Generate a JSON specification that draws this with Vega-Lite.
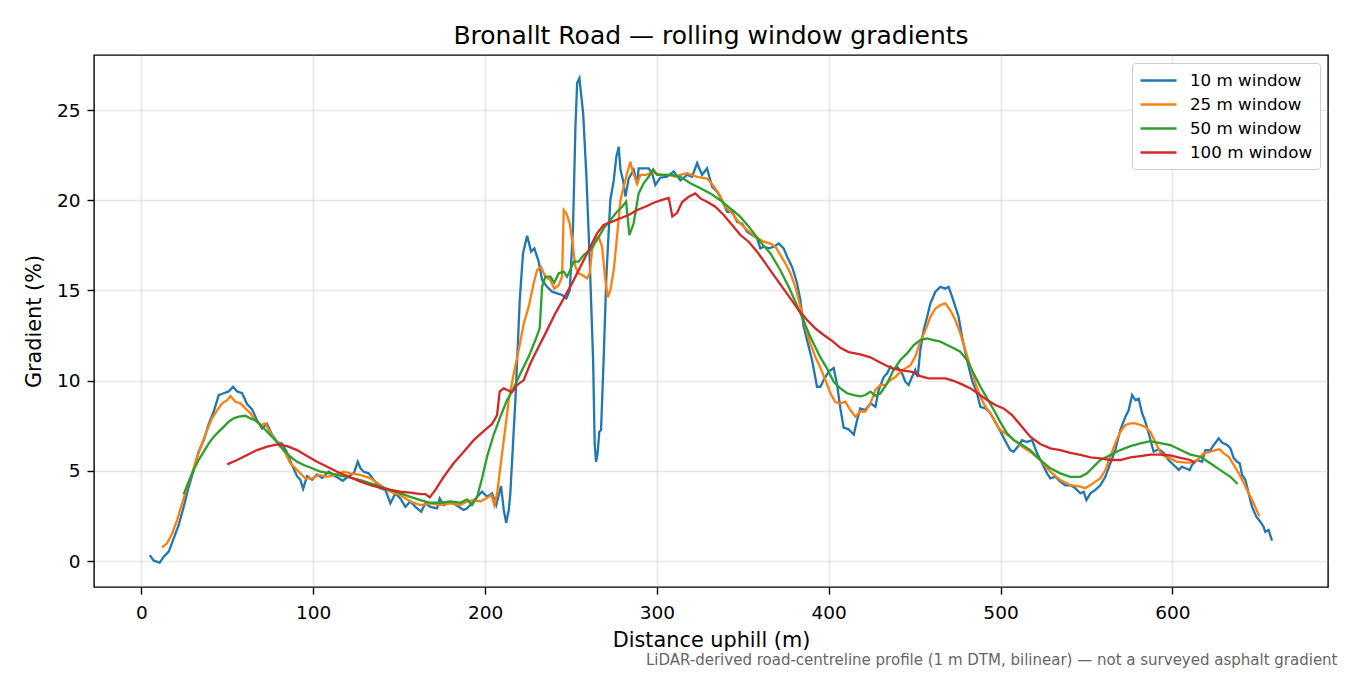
{
"$schema":"https://vega.github.io/schema/vega-lite/v6.json",
"width":1234,"height":532,
"autosize":{"type":"none"},
"padding":{"left":94,"top":55,"right":22,"bottom":88},
"background":"white",
"title":{"text":"Bronallt Road — rolling window gradients","font":"DejaVu Sans","fontSize":25,"fontWeight":"normal","color":"#000000","offset":6.5,"anchor":"middle"},
"config":{
"font":"DejaVu Sans",
"view":{"stroke":"#000000","strokeWidth":1.4},
"axis":{"domain":false,"tickColor":"#000000","tickWidth":1.4,"tickSize":7,"labelFont":"DejaVu Sans","labelFontSize":18.5,"labelColor":"#000000","titleFont":"DejaVu Sans","titleFontSize":20.8,"titleFontWeight":"normal","titleColor":"#000000","gridColor":"#b0b0b0","gridOpacity":0.3,"gridWidth":1.6},
"legend":{"orient":"top-right","offset":8,"labelFont":"DejaVu Sans","labelFontSize":16.7,"labelColor":"#000000","symbolType":"M-1,0L3,0","symbolSize":324,"symbolStrokeWidth":2.4,"labelOffset":30,"rowPadding":4,"padding":7,"strokeColor":"#cccccc","fillColor":"#ffffff","cornerRadius":3}
},
"datasets":{"gr":[
{"w":"10 m window","d":4.8,"g":0.33},{"w":"10 m window","d":7.2,"g":0.02},{"w":"10 m window","d":10.6,"g":-0.09},{"w":"10 m window","d":13,"g":0.24},{"w":"10 m window","d":15.9,"g":0.52},{"w":"10 m window","d":18.8,"g":1.26},{"w":"10 m window","d":21.7,"g":2.0},{"w":"10 m window","d":24.6,"g":3.0},{"w":"10 m window","d":27.5,"g":4.1},{"w":"10 m window","d":30.4,"g":5.04},{"w":"10 m window","d":33.3,"g":6.06},{"w":"10 m window","d":36.3,"g":6.7},{"w":"10 m window","d":39.2,"g":7.6},{"w":"10 m window","d":42.1,"g":8.3},{"w":"10 m window","d":45,"g":9.2},{"w":"10 m window","d":47.9,"g":9.3},{"w":"10 m window","d":50.8,"g":9.4},{"w":"10 m window","d":53.3,"g":9.66},{"w":"10 m window","d":55.7,"g":9.4},{"w":"10 m window","d":58.6,"g":9.3},{"w":"10 m window","d":61.5,"g":8.7},{"w":"10 m window","d":64.4,"g":8.4},{"w":"10 m window","d":67.3,"g":7.8},{"w":"10 m window","d":70.2,"g":7.35},{"w":"10 m window","d":73.1,"g":7.6},{"w":"10 m window","d":76,"g":7.0},{"w":"10 m window","d":79,"g":6.6},{"w":"10 m window","d":81.9,"g":6.5},{"w":"10 m window","d":84.8,"g":6.0},{"w":"10 m window","d":87.7,"g":5.3},{"w":"10 m window","d":90.6,"g":4.7},{"w":"10 m window","d":92.5,"g":4.5},{"w":"10 m window","d":94.1,"g":4.0},{"w":"10 m window","d":96.4,"g":4.7},{"w":"10 m window","d":99.3,"g":4.5},{"w":"10 m window","d":102.2,"g":4.8},{"w":"10 m window","d":105.2,"g":4.6},{"w":"10 m window","d":109,"g":4.95},{"w":"10 m window","d":112.9,"g":4.7},{"w":"10 m window","d":117.2,"g":4.45},{"w":"10 m window","d":120.6,"g":4.7},{"w":"10 m window","d":123.6,"g":4.86},{"w":"10 m window","d":125.9,"g":5.5},{"w":"10 m window","d":127.5,"g":5.14},{"w":"10 m window","d":129.4,"g":4.95},{"w":"10 m window","d":132.3,"g":4.86},{"w":"10 m window","d":135.2,"g":4.5},{"w":"10 m window","d":139.1,"g":4.03},{"w":"10 m window","d":142,"g":3.94},{"w":"10 m window","d":144.9,"g":3.2},{"w":"10 m window","d":147.8,"g":3.75},{"w":"10 m window","d":150.7,"g":3.47},{"w":"10 m window","d":153.6,"g":3.0},{"w":"10 m window","d":156.5,"g":3.3},{"w":"10 m window","d":159.5,"g":3.0},{"w":"10 m window","d":162.8,"g":2.73},{"w":"10 m window","d":165.3,"g":3.2},{"w":"10 m window","d":168.2,"g":3.0},{"w":"10 m window","d":172.1,"g":2.92},{"w":"10 m window","d":173.6,"g":3.47},{"w":"10 m window","d":175.9,"g":3.1},{"w":"10 m window","d":179.8,"g":3.3},{"w":"10 m window","d":184.7,"g":3.0},{"w":"10 m window","d":187.6,"g":2.83},{"w":"10 m window","d":189.5,"g":2.92},{"w":"10 m window","d":192.4,"g":3.2},{"w":"10 m window","d":195.4,"g":3.56},{"w":"10 m window","d":198.3,"g":3.84},{"w":"10 m window","d":201.2,"g":3.56},{"w":"10 m window","d":204.1,"g":3.75},{"w":"10 m window","d":206.5,"g":3.1},{"w":"10 m window","d":209.3,"g":4.15},{"w":"10 m window","d":210.9,"g":2.83},{"w":"10 m window","d":212.3,"g":2.12},{"w":"10 m window","d":213.8,"g":2.83},{"w":"10 m window","d":214.7,"g":3.75},{"w":"10 m window","d":217.7,"g":9.0},{"w":"10 m window","d":220.2,"g":14.5},{"w":"10 m window","d":222.1,"g":17.06},{"w":"10 m window","d":224.5,"g":18.03},{"w":"10 m window","d":226.8,"g":17.15},{"w":"10 m window","d":228.7,"g":17.33},{"w":"10 m window","d":231.2,"g":16.6},{"w":"10 m window","d":233.2,"g":15.58},{"w":"10 m window","d":236.1,"g":15.2},{"w":"10 m window","d":239,"g":14.93},{"w":"10 m window","d":241.9,"g":14.84},{"w":"10 m window","d":244.8,"g":14.75},{"w":"10 m window","d":247.3,"g":14.56},{"w":"10 m window","d":249.3,"g":15.0},{"w":"10 m window","d":251.2,"g":18.5},{"w":"10 m window","d":252.6,"g":24.07},{"w":"10 m window","d":253.6,"g":26.5},{"w":"10 m window","d":254.9,"g":26.76},{"w":"10 m window","d":256.1,"g":25.7},{"w":"10 m window","d":257.1,"g":24.8},{"w":"10 m window","d":259,"g":21.3},{"w":"10 m window","d":260.9,"g":16.7},{"w":"10 m window","d":262.9,"g":11.1},{"w":"10 m window","d":263.8,"g":6.5},{"w":"10 m window","d":264.6,"g":5.5},{"w":"10 m window","d":265.5,"g":5.97},{"w":"10 m window","d":266.5,"g":7.17},{"w":"10 m window","d":267.5,"g":7.26},{"w":"10 m window","d":269,"g":11.14},{"w":"10 m window","d":270.6,"g":15.76},{"w":"10 m window","d":272.9,"g":20.0},{"w":"10 m window","d":274.9,"g":21.1},{"w":"10 m window","d":276.4,"g":22.4},{"w":"10 m window","d":277.8,"g":22.96},{"w":"10 m window","d":278.8,"g":21.7},{"w":"10 m window","d":280.3,"g":21.1},{"w":"10 m window","d":281.7,"g":20.2},{"w":"10 m window","d":283.6,"g":21.2},{"w":"10 m window","d":286.5,"g":21.7},{"w":"10 m window","d":288.5,"g":20.9},{"w":"10 m window","d":289.4,"g":21.77},{"w":"10 m window","d":292.3,"g":21.77},{"w":"10 m window","d":295.2,"g":21.77},{"w":"10 m window","d":297.2,"g":21.5},{"w":"10 m window","d":299.1,"g":20.84},{"w":"10 m window","d":302,"g":21.25},{"w":"10 m window","d":305.9,"g":21.3},{"w":"10 m window","d":309.8,"g":21.6},{"w":"10 m window","d":313.7,"g":21.1},{"w":"10 m window","d":317.6,"g":21.4},{"w":"10 m window","d":320.5,"g":21.3},{"w":"10 m window","d":323.4,"g":22.05},{"w":"10 m window","d":326.3,"g":21.4},{"w":"10 m window","d":329.2,"g":21.77},{"w":"10 m window","d":332.1,"g":20.75},{"w":"10 m window","d":335,"g":20.47},{"w":"10 m window","d":337.9,"g":20.0},{"w":"10 m window","d":340.9,"g":19.36},{"w":"10 m window","d":343.8,"g":19.36},{"w":"10 m window","d":346.7,"g":18.8},{"w":"10 m window","d":349.6,"g":18.7},{"w":"10 m window","d":352.5,"g":18.25},{"w":"10 m window","d":355.4,"g":18.07},{"w":"10 m window","d":358.3,"g":17.9},{"w":"10 m window","d":360.2,"g":17.33},{"w":"10 m window","d":362.2,"g":17.42},{"w":"10 m window","d":365.1,"g":17.33},{"w":"10 m window","d":368,"g":17.42},{"w":"10 m window","d":370.9,"g":17.6},{"w":"10 m window","d":373.8,"g":17.33},{"w":"10 m window","d":375.8,"g":16.87},{"w":"10 m window","d":378.7,"g":16.3},{"w":"10 m window","d":381.6,"g":15.4},{"w":"10 m window","d":383.5,"g":14.47},{"w":"10 m window","d":385.4,"g":13.0},{"w":"10 m window","d":387.4,"g":12.25},{"w":"10 m window","d":390.3,"g":11.14},{"w":"10 m window","d":393.2,"g":9.66},{"w":"10 m window","d":395.2,"g":9.66},{"w":"10 m window","d":397.1,"g":10.03},{"w":"10 m window","d":400,"g":10.5},{"w":"10 m window","d":402.9,"g":10.7},{"w":"10 m window","d":404.9,"g":9.76},{"w":"10 m window","d":406.8,"g":8.46},{"w":"10 m window","d":408.7,"g":7.4},{"w":"10 m window","d":411.6,"g":7.3},{"w":"10 m window","d":414.6,"g":7.0},{"w":"10 m window","d":416.5,"g":7.8},{"w":"10 m window","d":418.4,"g":8.46},{"w":"10 m window","d":421.3,"g":8.37},{"w":"10 m window","d":424.3,"g":8.74},{"w":"10 m window","d":427.2,"g":8.55},{"w":"10 m window","d":429.1,"g":9.48},{"w":"10 m window","d":432,"g":10.2},{"w":"10 m window","d":434,"g":10.4},{"w":"10 m window","d":435.9,"g":10.77},{"w":"10 m window","d":437.8,"g":10.6},{"w":"10 m window","d":439.8,"g":10.77},{"w":"10 m window","d":442.7,"g":10.4},{"w":"10 m window","d":444.6,"g":9.94},{"w":"10 m window","d":446.5,"g":9.76},{"w":"10 m window","d":448.5,"g":10.2},{"w":"10 m window","d":450.4,"g":10.6},{"w":"10 m window","d":451.8,"g":10.2},{"w":"10 m window","d":453.3,"g":11.7},{"w":"10 m window","d":455.3,"g":12.8},{"w":"10 m window","d":457.3,"g":13.54},{"w":"10 m window","d":459.2,"g":14.28},{"w":"10 m window","d":462.1,"g":14.93},{"w":"10 m window","d":465,"g":15.2},{"w":"10 m window","d":467.9,"g":15.1},{"w":"10 m window","d":469.8,"g":15.2},{"w":"10 m window","d":471.8,"g":14.65},{"w":"10 m window","d":473.7,"g":14.1},{"w":"10 m window","d":475.6,"g":13.54},{"w":"10 m window","d":477.6,"g":12.43},{"w":"10 m window","d":480.5,"g":11.14},{"w":"10 m window","d":483.4,"g":10.03},{"w":"10 m window","d":486.3,"g":9.3},{"w":"10 m window","d":488.3,"g":8.55},{"w":"10 m window","d":491.2,"g":8.46},{"w":"10 m window","d":494.1,"g":8.2},{"w":"10 m window","d":497,"g":7.7},{"w":"10 m window","d":499.9,"g":7.2},{"w":"10 m window","d":502.8,"g":6.65},{"w":"10 m window","d":505.7,"g":6.15},{"w":"10 m window","d":507.6,"g":6.06},{"w":"10 m window","d":510.6,"g":6.4},{"w":"10 m window","d":512.5,"g":6.7},{"w":"10 m window","d":515.4,"g":6.6},{"w":"10 m window","d":518.4,"g":6.7},{"w":"10 m window","d":521.3,"g":5.97},{"w":"10 m window","d":524.2,"g":5.42},{"w":"10 m window","d":527.1,"g":4.86},{"w":"10 m window","d":529,"g":4.58},{"w":"10 m window","d":531.9,"g":4.67},{"w":"10 m window","d":534.8,"g":4.4},{"w":"10 m window","d":537.7,"g":4.2},{"w":"10 m window","d":540.7,"g":4.2},{"w":"10 m window","d":543.6,"g":4.03},{"w":"10 m window","d":546.5,"g":3.75},{"w":"10 m window","d":548.4,"g":3.84},{"w":"10 m window","d":550,"g":3.38},{"w":"10 m window","d":552.3,"g":3.75},{"w":"10 m window","d":555.2,"g":3.94},{"w":"10 m window","d":558.1,"g":4.2},{"w":"10 m window","d":561,"g":4.67},{"w":"10 m window","d":563.9,"g":5.42},{"w":"10 m window","d":566.8,"g":6.15},{"w":"10 m window","d":569.7,"g":7.26},{"w":"10 m window","d":572.7,"g":8.0},{"w":"10 m window","d":574.6,"g":8.37},{"w":"10 m window","d":576.6,"g":9.2},{"w":"10 m window","d":578.5,"g":8.92},{"w":"10 m window","d":580.4,"g":9.0},{"w":"10 m window","d":582.4,"g":8.19},{"w":"10 m window","d":584.3,"g":7.72},{"w":"10 m window","d":586.8,"g":6.89},{"w":"10 m window","d":589.1,"g":6.06},{"w":"10 m window","d":592,"g":6.2},{"w":"10 m window","d":594.9,"g":6.0},{"w":"10 m window","d":597.8,"g":5.6},{"w":"10 m window","d":600.8,"g":5.32},{"w":"10 m window","d":603.7,"g":5.05},{"w":"10 m window","d":605.6,"g":5.23},{"w":"10 m window","d":607.6,"g":5.14},{"w":"10 m window","d":610.1,"g":5.04},{"w":"10 m window","d":611.4,"g":5.32},{"w":"10 m window","d":614.4,"g":5.6},{"w":"10 m window","d":617.3,"g":5.5},{"w":"10 m window","d":619.2,"g":6.15},{"w":"10 m window","d":622.1,"g":6.15},{"w":"10 m window","d":624.1,"g":6.43},{"w":"10 m window","d":627,"g":6.8},{"w":"10 m window","d":629,"g":6.56},{"w":"10 m window","d":631.9,"g":6.43},{"w":"10 m window","d":633.8,"g":6.25},{"w":"10 m window","d":635.8,"g":5.69},{"w":"10 m window","d":637.7,"g":5.5},{"w":"10 m window","d":639.2,"g":5.42},{"w":"10 m window","d":640.6,"g":4.77},{"w":"10 m window","d":642.5,"g":4.5},{"w":"10 m window","d":644.4,"g":3.75},{"w":"10 m window","d":646.4,"g":3.0},{"w":"10 m window","d":648.9,"g":2.46},{"w":"10 m window","d":651.2,"g":2.18},{"w":"10 m window","d":653.1,"g":1.9},{"w":"10 m window","d":654.1,"g":1.62},{"w":"10 m window","d":656,"g":1.72},{"w":"10 m window","d":658,"g":1.13},
{"w":"25 m window","d":12,"g":0.76},{"w":"25 m window","d":14.9,"g":0.98},{"w":"25 m window","d":17.9,"g":1.53},{"w":"25 m window","d":20.8,"g":2.27},{"w":"25 m window","d":23.7,"g":3.2},{"w":"25 m window","d":26.6,"g":4.12},{"w":"25 m window","d":29.5,"g":4.86},{"w":"25 m window","d":32.4,"g":5.78},{"w":"25 m window","d":35.3,"g":6.52},{"w":"25 m window","d":38.2,"g":7.26},{"w":"25 m window","d":41.1,"g":7.91},{"w":"25 m window","d":44.1,"g":8.37},{"w":"25 m window","d":47,"g":8.74},{"w":"25 m window","d":49.9,"g":8.92},{"w":"25 m window","d":51.8,"g":9.15},{"w":"25 m window","d":54.7,"g":8.83},{"w":"25 m window","d":57.6,"g":8.74},{"w":"25 m window","d":60.5,"g":8.46},{"w":"25 m window","d":63.4,"g":8.19},{"w":"25 m window","d":66.3,"g":7.8},{"w":"25 m window","d":69.3,"g":7.54},{"w":"25 m window","d":72.2,"g":7.63},{"w":"25 m window","d":75.1,"g":7.08},{"w":"25 m window","d":78,"g":6.7},{"w":"25 m window","d":80.9,"g":6.43},{"w":"25 m window","d":83.8,"g":5.97},{"w":"25 m window","d":86.7,"g":5.42},{"w":"25 m window","d":89.6,"g":5.14},{"w":"25 m window","d":92.5,"g":4.86},{"w":"25 m window","d":95.4,"g":4.58},{"w":"25 m window","d":99.3,"g":4.58},{"w":"25 m window","d":103.2,"g":4.77},{"w":"25 m window","d":108.1,"g":4.67},{"w":"25 m window","d":112.9,"g":4.77},{"w":"25 m window","d":117.7,"g":4.95},{"w":"25 m window","d":121.6,"g":4.86},{"w":"25 m window","d":127.5,"g":4.77},{"w":"25 m window","d":133.3,"g":4.58},{"w":"25 m window","d":139.1,"g":4.2},{"w":"25 m window","d":144.9,"g":3.84},{"w":"25 m window","d":150.7,"g":3.66},{"w":"25 m window","d":156.5,"g":3.3},{"w":"25 m window","d":162.4,"g":3.1},{"w":"25 m window","d":168.2,"g":3.2},{"w":"25 m window","d":174,"g":3.1},{"w":"25 m window","d":179.8,"g":3.2},{"w":"25 m window","d":185.6,"g":3.1},{"w":"25 m window","d":189.5,"g":3.3},{"w":"25 m window","d":193.4,"g":3.38},{"w":"25 m window","d":197.3,"g":3.3},{"w":"25 m window","d":201.2,"g":3.5},{"w":"25 m window","d":203.7,"g":3.66},{"w":"25 m window","d":205.4,"g":3.1},{"w":"25 m window","d":207,"g":3.75},{"w":"25 m window","d":208.9,"g":5.2},{"w":"25 m window","d":210.9,"g":6.7},{"w":"25 m window","d":213.8,"g":8.92},{"w":"25 m window","d":216.7,"g":10.4},{"w":"25 m window","d":219.6,"g":11.7},{"w":"25 m window","d":222.5,"g":13.17},{"w":"25 m window","d":225.4,"g":14.1},{"w":"25 m window","d":228.3,"g":15.4},{"w":"25 m window","d":230.3,"g":16.13},{"w":"25 m window","d":232.6,"g":16.3},{"w":"25 m window","d":235.1,"g":15.76},{"w":"25 m window","d":238,"g":15.58},{"w":"25 m window","d":240.3,"g":15.1},{"w":"25 m window","d":242.9,"g":15.3},{"w":"25 m window","d":244.8,"g":15.76},{"w":"25 m window","d":245.8,"g":19.46},{"w":"25 m window","d":247.3,"g":19.27},{"w":"25 m window","d":249.3,"g":18.72},{"w":"25 m window","d":251.2,"g":17.42},{"w":"25 m window","d":252.6,"g":16.3},{"w":"25 m window","d":254.5,"g":15.95},{"w":"25 m window","d":256.5,"g":15.85},{"w":"25 m window","d":259.4,"g":15.67},{"w":"25 m window","d":260.9,"g":15.95},{"w":"25 m window","d":262.3,"g":17.24},{"w":"25 m window","d":264.2,"g":17.8},{"w":"25 m window","d":266.1,"g":17.98},{"w":"25 m window","d":268.1,"g":17.42},{"w":"25 m window","d":270,"g":15.58},{"w":"25 m window","d":271.4,"g":14.62},{"w":"25 m window","d":272.9,"g":15.0},{"w":"25 m window","d":274.9,"g":16.13},{"w":"25 m window","d":276.8,"g":17.98},{"w":"25 m window","d":278.8,"g":20.0},{"w":"25 m window","d":280.7,"g":20.75},{"w":"25 m window","d":282.7,"g":21.5},{"w":"25 m window","d":284.6,"g":22.13},{"w":"25 m window","d":286.1,"g":21.5},{"w":"25 m window","d":287.5,"g":21.2},{"w":"25 m window","d":288.5,"g":20.9},{"w":"25 m window","d":290.4,"g":21.4},{"w":"25 m window","d":293.3,"g":21.4},{"w":"25 m window","d":296.2,"g":21.5},{"w":"25 m window","d":299.1,"g":21.5},{"w":"25 m window","d":303,"g":21.4},{"w":"25 m window","d":306.9,"g":21.4},{"w":"25 m window","d":310.8,"g":21.3},{"w":"25 m window","d":313.7,"g":21.4},{"w":"25 m window","d":317.6,"g":21.5},{"w":"25 m window","d":323.4,"g":21.3},{"w":"25 m window","d":329.2,"g":21.2},{"w":"25 m window","d":332.1,"g":20.9},{"w":"25 m window","d":336,"g":20.38},{"w":"25 m window","d":339.9,"g":19.64},{"w":"25 m window","d":343.8,"g":19.27},{"w":"25 m window","d":347.6,"g":18.8},{"w":"25 m window","d":352.5,"g":18.35},{"w":"25 m window","d":357.3,"g":17.98},{"w":"25 m window","d":362.2,"g":17.7},{"w":"25 m window","d":366.1,"g":17.6},{"w":"25 m window","d":369,"g":17.42},{"w":"25 m window","d":371.9,"g":16.96},{"w":"25 m window","d":374.8,"g":16.5},{"w":"25 m window","d":377.7,"g":15.95},{"w":"25 m window","d":380.6,"g":15.2},{"w":"25 m window","d":383.5,"g":14.1},{"w":"25 m window","d":386.4,"g":13.0},{"w":"25 m window","d":389.3,"g":12.07},{"w":"25 m window","d":392.2,"g":11.33},{"w":"25 m window","d":395.2,"g":10.7},{"w":"25 m window","d":398.1,"g":10.03},{"w":"25 m window","d":401,"g":9.3},{"w":"25 m window","d":403.9,"g":8.8},{"w":"25 m window","d":406.8,"g":8.74},{"w":"25 m window","d":409.7,"g":8.83},{"w":"25 m window","d":412.6,"g":8.37},{"w":"25 m window","d":415.5,"g":8.0},{"w":"25 m window","d":418.4,"g":8.3},{"w":"25 m window","d":421.3,"g":8.28},{"w":"25 m window","d":424.3,"g":8.74},{"w":"25 m window","d":427.2,"g":9.48},{"w":"25 m window","d":430.1,"g":9.76},{"w":"25 m window","d":433,"g":9.76},{"w":"25 m window","d":435.9,"g":10.03},{"w":"25 m window","d":438.8,"g":10.2},{"w":"25 m window","d":441.7,"g":10.5},{"w":"25 m window","d":444.6,"g":10.68},{"w":"25 m window","d":447.6,"g":10.86},{"w":"25 m window","d":450.4,"g":11.33},{"w":"25 m window","d":453.3,"g":12.16},{"w":"25 m window","d":456.3,"g":12.8},{"w":"25 m window","d":459.2,"g":13.54},{"w":"25 m window","d":462.1,"g":14.0},{"w":"25 m window","d":465,"g":14.19},{"w":"25 m window","d":467.9,"g":14.28},{"w":"25 m window","d":470.8,"g":13.9},{"w":"25 m window","d":473.7,"g":13.36},{"w":"25 m window","d":476.6,"g":12.62},{"w":"25 m window","d":479.5,"g":11.7},{"w":"25 m window","d":482.5,"g":10.77},{"w":"25 m window","d":485.4,"g":9.85},{"w":"25 m window","d":488.3,"g":9.11},{"w":"25 m window","d":491.2,"g":8.55},{"w":"25 m window","d":494.1,"g":8.19},{"w":"25 m window","d":497,"g":7.68},{"w":"25 m window","d":499.9,"g":7.26},{"w":"25 m window","d":502.8,"g":7.08},{"w":"25 m window","d":506.7,"g":6.8},{"w":"25 m window","d":510.6,"g":6.5},{"w":"25 m window","d":514,"g":6.25},{"w":"25 m window","d":517.3,"g":6.06},{"w":"25 m window","d":523.1,"g":5.6},{"w":"25 m window","d":529,"g":4.95},{"w":"25 m window","d":534.8,"g":4.49},{"w":"25 m window","d":540.6,"g":4.21},{"w":"25 m window","d":546.5,"g":4.12},{"w":"25 m window","d":549.3,"g":4.03},{"w":"25 m window","d":552.3,"g":4.21},{"w":"25 m window","d":555.2,"g":4.4},{"w":"25 m window","d":558.1,"g":4.58},{"w":"25 m window","d":561,"g":5.04},{"w":"25 m window","d":563.9,"g":5.78},{"w":"25 m window","d":566.8,"g":6.52},{"w":"25 m window","d":569.7,"g":7.17},{"w":"25 m window","d":572.7,"g":7.54},{"w":"25 m window","d":575.6,"g":7.63},{"w":"25 m window","d":578.5,"g":7.63},{"w":"25 m window","d":581.4,"g":7.54},{"w":"25 m window","d":584.3,"g":7.44},{"w":"25 m window","d":587.2,"g":7.15},{"w":"25 m window","d":590.1,"g":6.6},{"w":"25 m window","d":593,"g":6.0},{"w":"25 m window","d":595.9,"g":5.78},{"w":"25 m window","d":598.8,"g":5.69},{"w":"25 m window","d":602.7,"g":5.5},{"w":"25 m window","d":606.6,"g":5.47},{"w":"25 m window","d":610.5,"g":5.45},{"w":"25 m window","d":614.4,"g":5.6},{"w":"25 m window","d":618.3,"g":5.97},{"w":"25 m window","d":622.1,"g":6.06},{"w":"25 m window","d":625.1,"g":6.15},{"w":"25 m window","d":627.5,"g":6.2},{"w":"25 m window","d":629.9,"g":5.97},{"w":"25 m window","d":632.8,"g":5.78},{"w":"25 m window","d":635.8,"g":5.32},{"w":"25 m window","d":638.7,"g":4.86},{"w":"25 m window","d":641.6,"g":4.31},{"w":"25 m window","d":644.5,"g":3.75},{"w":"25 m window","d":647.3,"g":3.2},{"w":"25 m window","d":650.6,"g":2.49},
{"w":"50 m window","d":24.6,"g":3.71},{"w":"50 m window","d":27.5,"g":4.4},{"w":"50 m window","d":30.4,"g":5.04},{"w":"50 m window","d":33.3,"g":5.6},{"w":"50 m window","d":36.3,"g":6.06},{"w":"50 m window","d":39.2,"g":6.52},{"w":"50 m window","d":42.1,"g":6.89},{"w":"50 m window","d":45,"g":7.17},{"w":"50 m window","d":47.9,"g":7.44},{"w":"50 m window","d":50.8,"g":7.72},{"w":"50 m window","d":53.7,"g":7.91},{"w":"50 m window","d":56.6,"g":8.0},{"w":"50 m window","d":60.5,"g":8.05},{"w":"50 m window","d":63.4,"g":7.91},{"w":"50 m window","d":66.3,"g":7.8},{"w":"50 m window","d":69.3,"g":7.54},{"w":"50 m window","d":72.2,"g":7.26},{"w":"50 m window","d":75.1,"g":6.98},{"w":"50 m window","d":78,"g":6.7},{"w":"50 m window","d":80.9,"g":6.34},{"w":"50 m window","d":83.8,"g":6.06},{"w":"50 m window","d":86.7,"g":5.78},{"w":"50 m window","d":90.6,"g":5.5},{"w":"50 m window","d":94.5,"g":5.32},{"w":"50 m window","d":99.3,"g":5.14},{"w":"50 m window","d":104.2,"g":4.95},{"w":"50 m window","d":110,"g":4.86},{"w":"50 m window","d":115.8,"g":4.74},{"w":"50 m window","d":121.6,"g":4.62},{"w":"50 m window","d":127.5,"g":4.49},{"w":"50 m window","d":133.3,"g":4.3},{"w":"50 m window","d":139.1,"g":4.12},{"w":"50 m window","d":144.9,"g":3.94},{"w":"50 m window","d":150.7,"g":3.75},{"w":"50 m window","d":156.5,"g":3.56},{"w":"50 m window","d":162.4,"g":3.38},{"w":"50 m window","d":168.2,"g":3.23},{"w":"50 m window","d":174,"g":3.23},{"w":"50 m window","d":179.8,"g":3.3},{"w":"50 m window","d":185.6,"g":3.23},{"w":"50 m window","d":189.5,"g":3.42},{"w":"50 m window","d":192.4,"g":3.1},{"w":"50 m window","d":195.4,"g":3.56},{"w":"50 m window","d":198.3,"g":4.6},{"w":"50 m window","d":201.2,"g":5.8},{"w":"50 m window","d":205,"g":7.0},{"w":"50 m window","d":208.9,"g":8.0},{"w":"50 m window","d":212.8,"g":8.92},{"w":"50 m window","d":215.7,"g":9.4},{"w":"50 m window","d":220.6,"g":10.4},{"w":"50 m window","d":225.4,"g":11.33},{"w":"50 m window","d":229.3,"g":12.25},{"w":"50 m window","d":231.8,"g":12.9},{"w":"50 m window","d":233.2,"g":15.2},{"w":"50 m window","d":235.1,"g":15.76},{"w":"50 m window","d":238,"g":15.76},{"w":"50 m window","d":240.3,"g":15.43},{"w":"50 m window","d":242.9,"g":15.95},{"w":"50 m window","d":245.8,"g":16.04},{"w":"50 m window","d":247.7,"g":15.76},{"w":"50 m window","d":250,"g":16.22},{"w":"50 m window","d":251.6,"g":16.6},{"w":"50 m window","d":254.5,"g":16.6},{"w":"50 m window","d":257.4,"g":16.96},{"w":"50 m window","d":261.3,"g":17.24},{"w":"50 m window","d":265.2,"g":17.8},{"w":"50 m window","d":269,"g":18.44},{"w":"50 m window","d":272.9,"g":18.9},{"w":"50 m window","d":276.8,"g":19.36},{"w":"50 m window","d":279.8,"g":19.64},{"w":"50 m window","d":282.1,"g":19.92},{"w":"50 m window","d":284,"g":18.07},{"w":"50 m window","d":286.5,"g":18.72},{"w":"50 m window","d":289.4,"g":20.38},{"w":"50 m window","d":292.3,"g":20.94},{"w":"50 m window","d":295.2,"g":21.3},{"w":"50 m window","d":297.8,"g":21.71},{"w":"50 m window","d":300.1,"g":21.4},{"w":"50 m window","d":304,"g":21.4},{"w":"50 m window","d":308.8,"g":21.4},{"w":"50 m window","d":313.7,"g":21.3},{"w":"50 m window","d":319.5,"g":20.94},{"w":"50 m window","d":325.3,"g":20.66},{"w":"50 m window","d":331.1,"g":20.38},{"w":"50 m window","d":336.9,"g":20.0},{"w":"50 m window","d":342.7,"g":19.55},{"w":"50 m window","d":348.5,"g":19.09},{"w":"50 m window","d":354.3,"g":18.44},{"w":"50 m window","d":360.2,"g":17.7},{"w":"50 m window","d":366,"g":17.06},{"w":"50 m window","d":371.8,"g":16.13},{"w":"50 m window","d":377.6,"g":15.02},{"w":"50 m window","d":383.5,"g":13.73},{"w":"50 m window","d":389.3,"g":12.43},{"w":"50 m window","d":395.1,"g":11.3},{"w":"50 m window","d":399,"g":10.68},{"w":"50 m window","d":402.9,"g":9.94},{"w":"50 m window","d":406.8,"g":9.57},{"w":"50 m window","d":410.7,"g":9.3},{"w":"50 m window","d":414.6,"g":9.2},{"w":"50 m window","d":418.4,"g":9.13},{"w":"50 m window","d":421.3,"g":9.2},{"w":"50 m window","d":424.3,"g":9.39},{"w":"50 m window","d":427.2,"g":9.15},{"w":"50 m window","d":430.1,"g":9.3},{"w":"50 m window","d":434,"g":9.85},{"w":"50 m window","d":437.8,"g":10.6},{"w":"50 m window","d":441.7,"g":11.14},{"w":"50 m window","d":445.6,"g":11.51},{"w":"50 m window","d":449.5,"g":11.97},{"w":"50 m window","d":453.3,"g":12.25},{"w":"50 m window","d":457.2,"g":12.34},{"w":"50 m window","d":461.1,"g":12.25},{"w":"50 m window","d":465,"g":12.16},{"w":"50 m window","d":468.9,"g":11.97},{"w":"50 m window","d":472.8,"g":11.79},{"w":"50 m window","d":476.6,"g":11.6},{"w":"50 m window","d":480.5,"g":11.14},{"w":"50 m window","d":484.4,"g":10.4},{"w":"50 m window","d":488.3,"g":9.66},{"w":"50 m window","d":492.2,"g":9.02},{"w":"50 m window","d":496.1,"g":8.37},{"w":"50 m window","d":499.9,"g":7.7},{"w":"50 m window","d":503.8,"g":7.08},{"w":"50 m window","d":507.7,"g":6.7},{"w":"50 m window","d":511.5,"g":6.5},{"w":"50 m window","d":517.3,"g":6.15},{"w":"50 m window","d":523.1,"g":5.6},{"w":"50 m window","d":529,"g":5.14},{"w":"50 m window","d":534.8,"g":4.86},{"w":"50 m window","d":540.6,"g":4.67},{"w":"50 m window","d":546.5,"g":4.67},{"w":"50 m window","d":550.3,"g":4.86},{"w":"50 m window","d":554.2,"g":5.23},{"w":"50 m window","d":558.1,"g":5.6},{"w":"50 m window","d":562,"g":5.78},{"w":"50 m window","d":565.9,"g":5.97},{"w":"50 m window","d":569.7,"g":6.15},{"w":"50 m window","d":575.6,"g":6.37},{"w":"50 m window","d":581.4,"g":6.52},{"w":"50 m window","d":587.2,"g":6.64},{"w":"50 m window","d":593,"g":6.54},{"w":"50 m window","d":598.8,"g":6.43},{"w":"50 m window","d":604.6,"g":6.17},{"w":"50 m window","d":610.5,"g":5.9},{"w":"50 m window","d":616.3,"g":5.78},{"w":"50 m window","d":622.1,"g":5.42},{"w":"50 m window","d":627.9,"g":5.04},{"w":"50 m window","d":633.8,"g":4.67},{"w":"50 m window","d":638,"g":4.27},
{"w":"100 m window","d":49.9,"g":5.36},{"w":"100 m window","d":55.7,"g":5.6},{"w":"100 m window","d":61.5,"g":5.88},{"w":"100 m window","d":67.3,"g":6.15},{"w":"100 m window","d":73.2,"g":6.34},{"w":"100 m window","d":79,"g":6.47},{"w":"100 m window","d":84.8,"g":6.37},{"w":"100 m window","d":90.6,"g":6.15},{"w":"100 m window","d":96.4,"g":5.82},{"w":"100 m window","d":102.2,"g":5.5},{"w":"100 m window","d":108.1,"g":5.23},{"w":"100 m window","d":113.9,"g":4.95},{"w":"100 m window","d":119.7,"g":4.71},{"w":"100 m window","d":127.5,"g":4.4},{"w":"100 m window","d":133.3,"g":4.21},{"w":"100 m window","d":139.1,"g":4.06},{"w":"100 m window","d":144.9,"g":3.94},{"w":"100 m window","d":150.7,"g":3.84},{"w":"100 m window","d":156.5,"g":3.79},{"w":"100 m window","d":162.4,"g":3.71},{"w":"100 m window","d":165.3,"g":3.71},{"w":"100 m window","d":167.8,"g":3.53},{"w":"100 m window","d":171.1,"g":3.94},{"w":"100 m window","d":175.9,"g":4.67},{"w":"100 m window","d":181.7,"g":5.42},{"w":"100 m window","d":187.6,"g":6.06},{"w":"100 m window","d":193.4,"g":6.7},{"w":"100 m window","d":199.2,"g":7.2},{"w":"100 m window","d":204.1,"g":7.6},{"w":"100 m window","d":207,"g":8.09},{"w":"100 m window","d":208.5,"g":9.4},{"w":"100 m window","d":210.9,"g":9.57},{"w":"100 m window","d":213.5,"g":9.45},{"w":"100 m window","d":215.7,"g":9.36},{"w":"100 m window","d":218.7,"g":9.76},{"w":"100 m window","d":222.5,"g":10.03},{"w":"100 m window","d":226.4,"g":10.96},{"w":"100 m window","d":231.2,"g":11.88},{"w":"100 m window","d":236.1,"g":12.8},{"w":"100 m window","d":240.9,"g":13.73},{"w":"100 m window","d":245.8,"g":14.56},{"w":"100 m window","d":250.6,"g":15.39},{"w":"100 m window","d":255.5,"g":16.31},{"w":"100 m window","d":260.3,"g":17.24},{"w":"100 m window","d":265.2,"g":18.16},{"w":"100 m window","d":269,"g":18.63},{"w":"100 m window","d":273.9,"g":18.81},{"w":"100 m window","d":278.8,"g":19.0},{"w":"100 m window","d":283.6,"g":19.18},{"w":"100 m window","d":288.5,"g":19.46},{"w":"100 m window","d":293.3,"g":19.64},{"w":"100 m window","d":298.2,"g":19.86},{"w":"100 m window","d":303,"g":20.02},{"w":"100 m window","d":306.9,"g":20.13},{"w":"100 m window","d":309,"g":19.1},{"w":"100 m window","d":311.8,"g":19.3},{"w":"100 m window","d":314.7,"g":19.9},{"w":"100 m window","d":318.5,"g":20.19},{"w":"100 m window","d":322.4,"g":20.38},{"w":"100 m window","d":325.3,"g":20.1},{"w":"100 m window","d":329.2,"g":19.92},{"w":"100 m window","d":334,"g":19.64},{"w":"100 m window","d":338.9,"g":19.18},{"w":"100 m window","d":343.8,"g":18.63},{"w":"100 m window","d":348.6,"g":18.07},{"w":"100 m window","d":353.4,"g":17.7},{"w":"100 m window","d":358.3,"g":17.15},{"w":"100 m window","d":363.2,"g":16.5},{"w":"100 m window","d":368,"g":15.85},{"w":"100 m window","d":372.9,"g":15.2},{"w":"100 m window","d":377.7,"g":14.56},{"w":"100 m window","d":382.5,"g":13.91},{"w":"100 m window","d":387.4,"g":13.36},{"w":"100 m window","d":392.2,"g":12.9},{"w":"100 m window","d":397.1,"g":12.53},{"w":"100 m window","d":402,"g":12.2},{"w":"100 m window","d":406.8,"g":11.82},{"w":"100 m window","d":411.6,"g":11.58},{"w":"100 m window","d":418.4,"g":11.45},{"w":"100 m window","d":424.3,"g":11.29},{"w":"100 m window","d":429.1,"g":11.05},{"w":"100 m window","d":434,"g":10.81},{"w":"100 m window","d":438.8,"g":10.63},{"w":"100 m window","d":443.6,"g":10.55},{"w":"100 m window","d":448.5,"g":10.49},{"w":"100 m window","d":453.3,"g":10.25},{"w":"100 m window","d":458.2,"g":10.13},{"w":"100 m window","d":463.1,"g":10.13},{"w":"100 m window","d":467.9,"g":10.13},{"w":"100 m window","d":472.7,"g":9.99},{"w":"100 m window","d":477.6,"g":9.79},{"w":"100 m window","d":482.5,"g":9.57},{"w":"100 m window","d":487.3,"g":9.26},{"w":"100 m window","d":492.2,"g":8.92},{"w":"100 m window","d":497,"g":8.65},{"w":"100 m window","d":501.8,"g":8.46},{"w":"100 m window","d":506.7,"g":8.09},{"w":"100 m window","d":511.5,"g":7.55},{"w":"100 m window","d":517.3,"g":6.89},{"w":"100 m window","d":523.1,"g":6.49},{"w":"100 m window","d":529,"g":6.25},{"w":"100 m window","d":534.8,"g":6.15},{"w":"100 m window","d":540.6,"g":6.0},{"w":"100 m window","d":546.5,"g":5.88},{"w":"100 m window","d":552.3,"g":5.75},{"w":"100 m window","d":558.1,"g":5.69},{"w":"100 m window","d":563.9,"g":5.6},{"w":"100 m window","d":569.7,"g":5.6},{"w":"100 m window","d":575.6,"g":5.75},{"w":"100 m window","d":581.4,"g":5.82},{"w":"100 m window","d":587.2,"g":5.9},{"w":"100 m window","d":593,"g":5.9},{"w":"100 m window","d":598.8,"g":5.85},{"w":"100 m window","d":604.6,"g":5.72},{"w":"100 m window","d":610.5,"g":5.6},{"w":"100 m window","d":613,"g":5.45}
]},
"data":{"name":"gr"},
"resolve":{"axis":{"x":"independent"}},
"layer":[
{"transform":[{"filter":{"field":"w","oneOf":["10 m window","25 m window"]}}],
"mark":{"type":"line","strokeWidth":2.3,"clip":true},
"encoding":{
"x":{"field":"d","type":"quantitative","scale":{"domain":[-27.6,690.6],"nice":false,"zero":false},"axis":{"title":"Distance uphill (m)","orient":"bottom","values":[0,100,200,300,400,500,600],"labelPadding":9,"titlePadding":9}},
"y":{"field":"g","type":"quantitative","scale":{"domain":[-1.44,28.05],"nice":false,"zero":false},"axis":{"title":"Gradient (%)","values":[0,5,10,15,20,25],"labelPadding":7,"titlePadding":12}},
"color":{"field":"w","type":"nominal","scale":{"domain":["10 m window","25 m window","50 m window","100 m window"],"range":["#1f77b4","#ff7f0e","#2ca02c","#d62728"]},"legend":{"title":null}}
}},
{"transform":[{"filter":{"field":"w","oneOf":["50 m window","100 m window"]}}],
"mark":{"type":"line","strokeWidth":2.3,"clip":true},
"encoding":{
"x":{"field":"d","type":"quantitative","axis":{"orient":"bottom","title":"LiDAR-derived road-centreline profile (1 m DTM, bilinear) — not a surveyed asphalt gradient","labels":false,"ticks":false,"domain":false,"grid":false,"titleFontSize":15,"titleColor":"#666666","titleAnchor":"end","titleAlign":"right","titleX":1243,"titlePadding":65}},
"y":{"field":"g","type":"quantitative"},
"color":{"field":"w","type":"nominal","legend":{"title":null}}
}}
]
}
